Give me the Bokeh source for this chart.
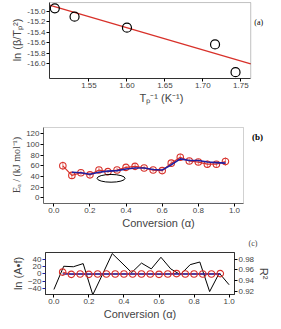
from bokeh.plotting import figure
from bokeh.models import (Range1d, FixedTicker, PrintfTickFormatter, LinearAxis, Whisker,
                          ColumnDataSource, BoxAnnotation, Title)
from bokeh.core.properties import value
from bokeh.embed import file_html
from bokeh.resources import INLINE

# ---- panel (a) data ----
a_x = [1.505, 1.531, 1.600, 1.716, 1.743]
a_y = [-14.94, -15.10, -15.31, -15.63, -16.16]
a_fit_x = [1.498, 1.763]
a_fit_y = [-14.88, -16.00]
a_xticks = [1.55, 1.60, 1.65, 1.70, 1.75]
a_yticks = [-15.0, -15.2, -15.4, -15.6, -15.8, -16.0]

# ---- panel (b) data ----
b_conv = [0.05, 0.10, 0.15, 0.20, 0.25, 0.30, 0.35, 0.40, 0.45, 0.50,
          0.55, 0.60, 0.65, 0.70, 0.75, 0.80, 0.85, 0.90, 0.95]
b_ea = [60, 42, 47, 43, 52, 49, 52, 57, 59, 56, 52, 51, 65, 76, 69, 67, 63, 63, 68]
b_err = [8, 5, 4, 4, 5, 3, 4, 3, 5, 4, 4, 4, 4, 7, 5, 5, 7, 5, 8]
b_blue_x = [0.10, 0.15, 0.20, 0.25, 0.30, 0.35, 0.40, 0.45, 0.50, 0.55,
            0.60, 0.65, 0.70, 0.75, 0.80, 0.85, 0.90, 0.95]
b_blue_y = [48, 47, 44, 48, 50, 51, 54, 56, 56, 53, 52, 62, 73, 70, 70, 67, 66, 65]
b_ell = dict(x=[0.317], y=[36.5], w=[0.155], h=[14.5])
b_xticks = [0.0, 0.2, 0.4, 0.6, 0.8, 1.0]
b_yticks = [0, 20, 40, 60, 80, 100, 120]

# ---- panel (c) data ----
c_conv = b_conv
c_lnA = [5, -1, 0, -1, 0, 0, 0, 0, 0, 0, 0, -1, 0, 1, 0, 0, 0, 0, 1]
c_blue_x = [0.05, 0.95]
c_blue_y = [0, 0]
c_r2_x = [0.000, 0.056, 0.111, 0.167, 0.222, 0.278, 0.333, 0.389, 0.444, 0.500,
          0.556, 0.611, 0.667, 0.722, 0.778, 0.833, 0.889, 0.944, 1.000]
c_r2 = [0.923, 0.967, 0.966, 0.972, 0.913, 0.952, 0.991, 0.973, 0.955, 0.973,
        0.962, 0.984, 0.962, 0.951, 0.970, 0.975, 0.919, 0.954, 0.932]
c_xticks = [0.0, 0.2, 0.4, 0.6, 0.8, 1.0]
c_yticks = [-40, -20, 0, 20, 40]
c_r2ticks = [0.92, 0.94, 0.96, 0.98]

RED = "#d8312a"
BLUE = "#1f1fa0"
SANS = "Liberation Sans"
SERIF = "Liberation Serif"


def style(p):
    p.xgrid.visible = False
    p.ygrid.visible = False
    p.outline_line_color = "#333333"
    p.outline_line_width = 1
    p.background_fill_color = "white"
    p.border_fill_color = "white"
    for ax in p.axis:
        ax.major_label_text_font = SANS
        ax.major_label_text_font_size = "8px"
        ax.axis_label_text_font = SANS
        ax.axis_label_text_font_size = "11px"
        ax.axis_label_text_font_style = "normal"
        ax.minor_tick_line_color = None
        ax.major_tick_in = 0
        ax.major_tick_out = 3
        ax.major_label_standoff = 1
        ax.axis_label_standoff = 1
        ax.axis_line_color = "#333333"


W = 265

# ---------------- (a) ----------------
# visible box: x 1.498..1.763, y -16.28..-14.83 ; frame extended right to hold "(a)"
pa = figure(width=W, height=106, output_backend="svg", toolbar_location=None,
            x_range=Range1d(1.498, 1.793), y_range=Range1d(-16.28, -14.81),
            min_border_left=39, min_border_right=0, min_border_top=1, min_border_bottom=24)
pa.line(a_fit_x, a_fit_y, line_color=RED, line_width=1.3)
pa.scatter(a_x, a_y, size=9, fill_color=None, line_color="black", line_width=1.2)
style(pa)
pa.outline_line_color = None
pa.add_layout(BoxAnnotation(left=1.498, right=1.763, bottom=-16.28, top=-14.83,
                            fill_alpha=0, line_color="#333333", line_width=1))
pa.xaxis.bounds = (1.498, 1.763)
pa.yaxis.bounds = (-16.28, -14.83)
pa.xaxis.ticker = FixedTicker(ticks=a_xticks)
pa.yaxis.ticker = FixedTicker(ticks=a_yticks)
pa.xaxis.formatter = PrintfTickFormatter(format="%.2f")
pa.yaxis.formatter = PrintfTickFormatter(format="%.1f")
pa.xaxis.axis_label = "Tₚ⁻¹ (K⁻¹)"
pa.yaxis.axis_label = "ln (β/Tₚ²)"
pa.text(x=[1.7735], y=[-15.22], text=["(a)"], text_font=value(SERIF), text_font_size="8px",
        text_align="center", text_baseline="middle", text_color="black")

# ---------------- (b) ----------------
pb = figure(width=W, height=126, output_backend="svg", toolbar_location=None,
            x_range=Range1d(-0.057, 1.216), y_range=Range1d(-10.7, 133.7),
            min_border_left=35, min_border_right=0, min_border_top=20, min_border_bottom=29)
src_b = ColumnDataSource(data=dict(x=b_conv, y=b_ea,
                                   lo=[v - e for v, e in zip(b_ea, b_err)],
                                   hi=[v + e for v, e in zip(b_ea, b_err)]))
pb.add_layout(Whisker(source=src_b, base="x", lower="lo", upper="hi", line_color=RED,
                      line_alpha=0.6, line_width=1, upper_head=None, lower_head=None))
pb.line("x", "y", source=src_b, line_color=RED, line_width=1.2)
pb.scatter("x", "y", source=src_b, size=6.5, fill_color=None, line_color=RED, line_width=1.1)
pb.line(b_blue_x, b_blue_y, line_color=BLUE, line_width=1.6)
pb.ellipse(x=b_ell["x"], y=b_ell["y"], width=b_ell["w"], height=b_ell["h"],
           fill_color=None, line_color="black", line_width=1)
style(pb)
pb.outline_line_color = None
pb.add_layout(BoxAnnotation(left=-0.057, right=1.05, bottom=-10.7, top=131.8,
                            fill_alpha=0, line_color="#666666", line_width=1))
pb.xaxis.bounds = (-0.057, 1.05)
pb.yaxis.bounds = (-10.7, 131.8)
pb.xaxis.axis_line_color = "#666666"
pb.yaxis.axis_line_color = "#666666"
pb.xaxis.ticker = FixedTicker(ticks=b_xticks)
pb.yaxis.ticker = FixedTicker(ticks=b_yticks)
pb.xaxis.formatter = PrintfTickFormatter(format="%.1f")
pb.xaxis.axis_label = "Conversion (α)"
pb.yaxis.axis_label = "Eₐ / (kJ mol⁻¹)"
pb.yaxis.axis_label_text_font = SERIF
pb.yaxis.axis_label_text_font_size = "10px"
pb.text(x=[1.1275], y=[114.9], text=["(b)"], text_font=value(SERIF), text_font_size="9px",
        text_font_style="bold", text_align="center", text_baseline="middle", text_color="black")

# ---------------- (c) ----------------
pc = figure(width=W, height=90, output_backend="svg", toolbar_location=None,
            x_range=Range1d(-0.048, 1.031), y_range=Range1d(-55, 57.5),
            min_border_left=35, min_border_right=34, min_border_top=20, min_border_bottom=25)
pc.extra_y_ranges = {"r2": Range1d(0.9135, 0.993)}
pc.line(c_r2_x, c_r2, y_range_name="r2", line_color="black", line_width=1)
pc.line(c_conv, c_lnA, line_color=RED, line_width=1)
pc.line(c_blue_x, c_blue_y, line_color=BLUE, line_width=1.6)
pc.scatter(c_conv, c_lnA, size=6.5, fill_color=None, line_color=RED, line_width=1.1)
ax_r = LinearAxis(y_range_name="r2", axis_label="R²")
pc.add_layout(ax_r, "right")
pc.title = Title(text="(c)", align="right", offset=-23, standoff=9,
                 text_font=SERIF, text_font_size="8px", text_font_style="normal")
style(pc)
pc.xaxis.ticker = FixedTicker(ticks=c_xticks)
pc.xaxis.formatter = PrintfTickFormatter(format="%.1f")
pc.yaxis[0].ticker = FixedTicker(ticks=c_yticks)
pc.yaxis[0].major_tick_line_color = BLUE
ax_r.ticker = FixedTicker(ticks=c_r2ticks)
ax_r.formatter = PrintfTickFormatter(format="%.2f")
pc.xaxis.axis_label = "Conversion (α)"
pc.yaxis[0].axis_label = "ln (A•f)"

pa.styles = {"position": "absolute", "top": "0px", "left": "8px"}
pb.styles = {"position": "absolute", "top": "106px", "left": "8px"}
pc.styles = {"position": "absolute", "top": "232px", "left": "8px"}

open("out.html", "w").write(file_html([pa, pb, pc], INLINE))
